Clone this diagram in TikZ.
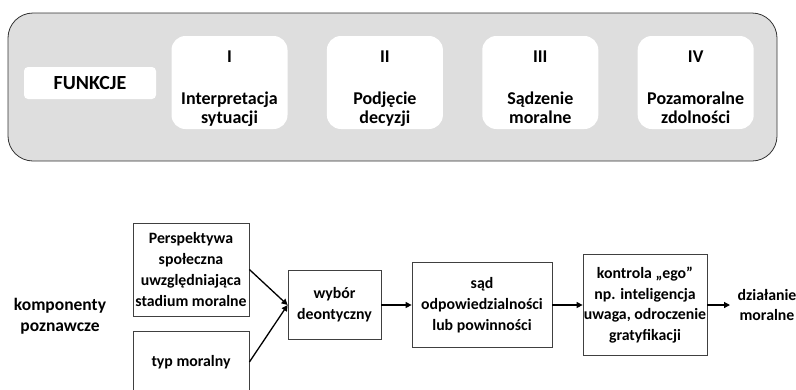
\documentclass[tikz,border=0pt]{standalone}
\usepackage{fontspec}
\setmainfont{Carlito}
\usetikzlibrary{positioning, arrows.meta}

\newcommand{\topstrut}{\rule{0pt}{25.5pt}}
\newcommand{\botstrut}{\rule[-5pt]{0pt}{5pt}}

\begin{document}
\begin{tikzpicture}[x=1pt, y=-1pt,
    panel/.style={draw=black!80, fill=black!13, rounded corners=25pt, line width=0.8pt},
    func/.style={fill=white, rounded corners=14pt, minimum width=116pt, minimum height=93pt,
        inner sep=0pt, align=center, font=\fontsize{18}{19.5}\bfseries\selectfont},
    comp/.style={draw=black!75, line width=0.8pt, inner sep=0pt, align=center,
        font=\fontsize{15.8}{20.7}\bfseries\selectfont},
    label/.style={align=center, font=\fontsize{15.8}{20.7}\bfseries\selectfont},
    link/.style={-{Triangle[length=6pt, width=6pt]}, line width=1.3pt}]
    \useasboundingbox (0,0) rectangle (796,389);

    % Functions
    \node[panel, minimum width=769pt, minimum height=148pt] (panel) at (392.5,87) {};
    \node[fill=white, rounded corners=4pt, minimum width=132pt, minimum height=32pt,
        font=\fontsize{20}{24}\bfseries\selectfont] (funkcje) at (90,83) {FUNKCJE};
    \node[func] (f1) at (229.5,82.5) {\topstrut I\\[22.5pt]Interpretacja\\sytuacji\botstrut};
    \node[func, right=39pt of f1] (f2) {\topstrut II\\[22.5pt]Podjęcie\\decyzji\botstrut};
    \node[func, right=39pt of f2] (f3) {\topstrut III\\[22.5pt]Sądzenie\\moralne\botstrut};
    \node[func, right=39pt of f3] (f4) {\topstrut IV\\[22.5pt]Pozamoralne\\zdolności\botstrut};

    % Components
    \node[label, font=\fontsize{17.5}{21}\bfseries\selectfont] (komponenty) at (60,316)
        {komponenty\\poznawcze};
    \node[comp, minimum width=116pt, minimum height=93pt] (perspektywa) at (191,269.5)
        {Perspektywa\\społeczna\\uwzględniająca\\stadium moralne};
    \node[comp, minimum width=116pt, minimum height=62pt] (typ) at (191,362) {typ moralny};
    \node[comp, minimum width=93pt, minimum height=69pt] (wybor) at (334.5,305) {wybór\\deontyczny};
    \node[comp, minimum width=140pt, minimum height=85pt] (sad) at (482,305)
        {sąd\\odpowiedzialności\\lub powinności};
    \node[comp, minimum width=124pt, minimum height=101pt] (kontrola) at (645,305)
        {kontrola „ego”\\np. inteligencja\\uwaga, odroczenie\\gratyfikacji};
    \node[label] (dzialanie) at (767,305) {działanie\\moralne};
    \coordinate (koniec) at (730,305);

    \draw[link] (perspektywa.east) -- (wybor.west);
    \draw[link] (typ.east) -- (wybor.west);
    \draw[link] (wybor) -- (sad);
    \draw[link] (sad) -- (kontrola);
    \draw[link] (kontrola) -- (koniec);
\end{tikzpicture}
\end{document}
